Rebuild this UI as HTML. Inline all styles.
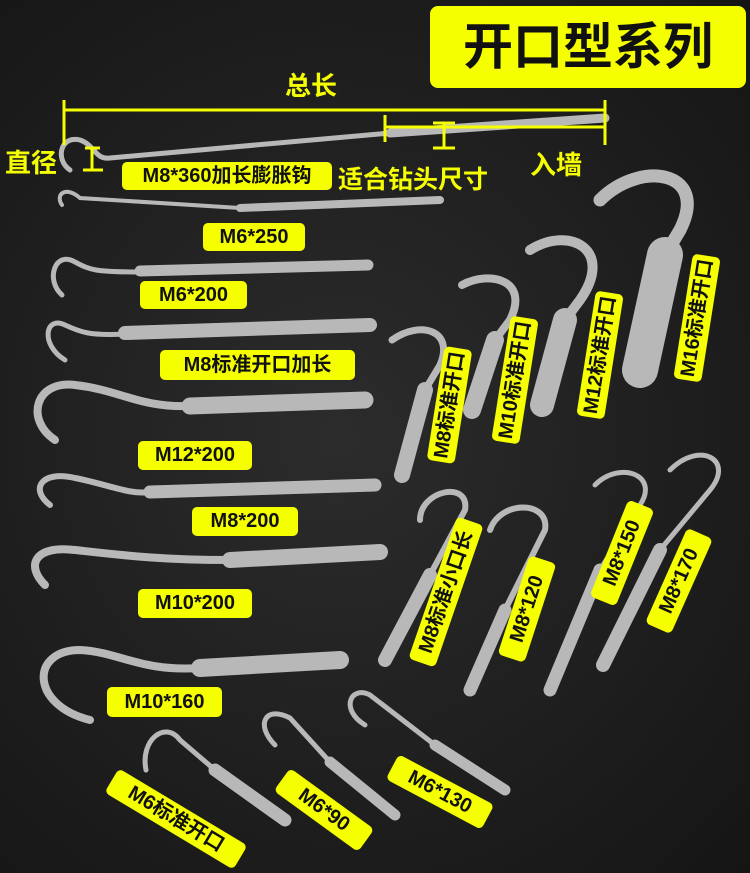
<!DOCTYPE html>
<html><head><meta charset="utf-8"><style>
body{margin:0;width:750px;height:873px;overflow:hidden;background:#202020;font-family:"Liberation Sans","Noto Sans CJK SC",sans-serif}
#bg{position:absolute;left:0;top:0;width:750px;height:873px;background:radial-gradient(ellipse at 45% 50%,#2c2c2c 0%,#1e1e1e 60%,#151515 100%)}
.l{position:absolute;background:#f5ff00;color:#111;font-weight:bold;border-radius:5px;text-align:center;white-space:nowrap;font-size:20px;height:28px;line-height:28px}
.r{transform-origin:center center}
.y{position:absolute;color:#f5ff00;font-weight:bold;font-size:26px;white-space:nowrap}
</style></head><body>
<div id="bg"></div>
<svg width="750" height="873" style="position:absolute;left:0;top:0">
<defs><linearGradient id="m" x1="0" y1="0" x2="0" y2="1"><stop offset="0" stop-color="#888"/><stop offset=".4" stop-color="#ddd"/><stop offset="1" stop-color="#666"/></linearGradient></defs>
<g fill="none" stroke="#b8b8b8" stroke-linecap="round">
<!-- top long -->
<path d="M70 170 C55 160 60 135 80 140 C95 145 95 160 110 158 L390 133" stroke-width="5"/>
<path d="M390 133 L605 118" stroke-width="9"/>
<path d="M62 205 C55 195 65 185 80 198 L240 208" stroke-width="4"/><path d="M240 208 L440 200" stroke-width="8"/>
<path d="M62 295 C45 280 55 250 75 262 C90 270 95 272 140 272" stroke-width="5"/><path d="M140 271 L368 265" stroke-width="11"/>
<path d="M65 360 C40 345 45 315 65 325 C80 332 90 336 125 334" stroke-width="5"/><path d="M125 333 L370 325" stroke-width="14"/>
<path d="M55 440 C25 420 35 380 75 385 C120 390 140 408 190 406" stroke-width="8"/><path d="M190 406 L365 400" stroke-width="17"/>
<path d="M50 505 C30 490 40 470 75 478 C110 485 130 495 150 492" stroke-width="6"/><path d="M150 492 L375 485" stroke-width="13"/>
<path d="M45 585 C25 565 35 545 75 550 C120 555 160 560 230 560" stroke-width="8"/><path d="M230 560 L380 552" stroke-width="16"/>
<path d="M90 720 C30 705 30 650 80 650 C120 652 140 672 200 668" stroke-width="8"/><path d="M200 668 L340 660" stroke-width="18"/>
<!-- bottom -->
<path d="M146 770 C140 740 165 720 180 740 L215 770" stroke-width="5"/><path d="M215 770 L285 820" stroke-width="13"/>
<path d="M275 745 C255 725 265 705 290 718 L330 762" stroke-width="5"/><path d="M330 762 L395 815" stroke-width="11"/>
<path d="M365 725 C340 710 350 685 370 695 L435 745" stroke-width="5"/><path d="M435 745 L505 790" stroke-width="11"/>
<!-- right upper -->
<path d="M392 340 C420 320 455 330 440 365 L425 390" stroke-width="7"/><path d="M425 390 L402 475" stroke-width="16"/>
<path d="M462 285 C490 270 530 280 510 320 L495 340" stroke-width="8"/><path d="M495 340 L472 410" stroke-width="18"/>
<path d="M530 250 C570 225 615 250 580 300 L565 320" stroke-width="10"/><path d="M565 320 L542 405" stroke-width="24"/>
<path d="M600 200 C640 160 710 170 680 230 L668 250" stroke-width="13"/><path d="M665 255 L640 370" stroke-width="36"/>
<!-- right lower -->
<path d="M420 520 C420 490 470 480 465 510 L430 575" stroke-width="6"/><path d="M430 575 L385 660" stroke-width="14"/>
<path d="M490 530 C500 500 550 500 545 530 L505 610" stroke-width="6"/><path d="M505 610 L470 690" stroke-width="13"/>
<path d="M595 485 C620 460 660 475 640 505 L600 570" stroke-width="5"/><path d="M600 570 L550 690" stroke-width="13"/>
<path d="M670 470 C700 440 735 460 710 490 L660 550" stroke-width="5"/><path d="M660 550 L603 665" stroke-width="14"/>
</g>
<g stroke="#f5ff00" stroke-width="3" fill="none">
<path d="M64 100 V145 M64 110 H605 M605 100 V145"/>
<path d="M385 115 V142 M385 127 H605"/>
<path d="M433 123 H455 M444 123 V148 M433 148 H455"/>
<path d="M85 148 H100 M92 148 V170 M83 170 H103"/>
</g>
</svg>
<div class="l" style="left:430px;top:6px;width:316px;height:82px;line-height:82px;font-size:50px;border-radius:8px">开口型系列</div>
<div class="y" style="left:285px;top:66px">总长</div>
<div class="y" style="left:5px;top:143px">直径</div>
<div class="y" style="left:338px;top:160px;font-size:25px">适合钻头尺寸</div>
<div class="y" style="left:530px;top:145px">入墙</div>
<div class="l" style="left:122px;top:162px;width:210px">M8*360加长膨胀钩</div>
<div class="l" style="left:203px;top:223px;width:102px">M6*250</div>
<div class="l" style="left:140px;top:281px;width:107px">M6*200</div>
<div class="l" style="left:160px;top:350px;width:195px;height:30px;line-height:30px">M8标准开口加长</div>
<div class="l" style="left:138px;top:441px;width:114px;height:29px">M12*200</div>
<div class="l" style="left:192px;top:507px;width:106px;height:29px">M8*200</div>
<div class="l" style="left:138px;top:589px;width:114px;height:29px">M10*200</div>
<div class="l" style="left:107px;top:687px;width:115px;height:30px;line-height:30px">M10*160</div>
<div class="l r" style="left:101px;top:805px;width:150px;transform:rotate(31deg)">M6标准开口</div>
<div class="l r" style="left:272px;top:796px;width:104px;transform:rotate(36deg)">M6*90</div>
<div class="l r" style="left:386px;top:778px;width:108px;transform:rotate(28deg)">M6*130</div>
<div class="l r" style="left:392px;top:391px;width:115px;transform:rotate(-81deg)">M8标准开口</div>
<div class="l r" style="left:452px;top:366px;width:126px;transform:rotate(-81deg)">M10标准开口</div>
<div class="l r" style="left:537px;top:341px;width:126px;transform:rotate(-81deg)">M12标准开口</div>
<div class="l r" style="left:634px;top:304px;width:126px;transform:rotate(-81deg)">M16标准开口</div>
<div class="l r" style="left:371px;top:578px;width:150px;transform:rotate(-71deg)">M8标准小口长</div>
<div class="l r" style="left:475px;top:595px;width:104px;transform:rotate(-72deg)">M8*120</div>
<div class="l r" style="left:570px;top:539px;width:104px;transform:rotate(-68deg)">M8*150</div>
<div class="l r" style="left:627px;top:567px;width:104px;transform:rotate(-66deg)">M8*170</div>
</body></html>
